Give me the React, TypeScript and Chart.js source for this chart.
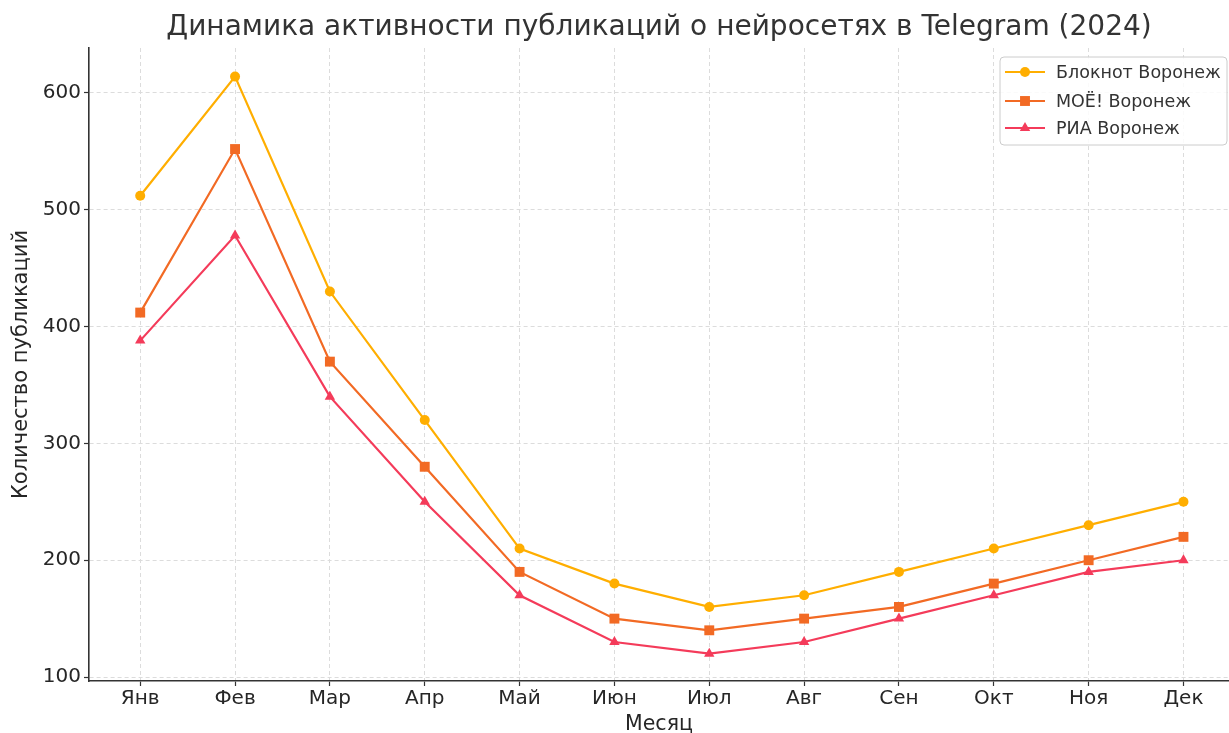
import React, { useEffect, useRef } from "react";
import { Chart, registerables } from "chart.js";

Chart.register(...registerables);

const months = ["Янв", "Фев", "Мар", "Апр", "Май", "Июн", "Июл", "Авг", "Сен", "Окт", "Ноя", "Дек"];
const bloknot = [512, 614, 430, 320, 210, 180, 160, 170, 190, 210, 230, 250];
const moe = [412, 552, 370, 280, 190, 150, 140, 150, 160, 180, 200, 220];
const ria = [388, 478, 340, 250, 170, 130, 120, 130, 150, 170, 190, 200];
const yTicks = [100, 200, 300, 400, 500, 600];
const seriesNames = ["Блокнот Воронеж", "МОЁ! Воронеж", "РИА Воронеж"];
const seriesColors = ["#FFAE00", "#F26A24", "#F43B5A"];
const seriesStyles = ["circle", "rect", "triangle"];
const seriesRadius = [5, 7, 6];
const titleText = "Динамика активности публикаций о нейросетях в Telegram (2024)";
const xTitle = "Месяц";
const yTitle = "Количество публикаций";

const FONT = "'DejaVu Sans', sans-serif";

function drawMarker(ctx: CanvasRenderingContext2D, style: string, r: number, x: number, y: number) {
  ctx.beginPath();
  if (style === "circle") {
    ctx.arc(x, y, r, 0, Math.PI * 2);
  } else if (style === "rect") {
    const s = Math.SQRT1_2 * r;
    ctx.rect(x - s, y - s, 2 * s, 2 * s);
  } else {
    const w = (r * Math.sqrt(3)) / 2;
    ctx.moveTo(x, y - r);
    ctx.lineTo(x + w, y + r / 2);
    ctx.lineTo(x - w, y + r / 2);
    ctx.closePath();
  }
  ctx.fill();
}

const textPlugin = {
  id: "textPlugin",
  afterDraw(chart: any) {
    const ctx = chart.ctx;
    const area = chart.chartArea;
    ctx.save();
    ctx.fillStyle = "#333";
    ctx.textAlign = "center";
    ctx.textBaseline = "middle";
    ctx.font = `28px ${FONT}`;
    ctx.fillText(titleText, (area.left + area.right) / 2, 28);
    ctx.fillStyle = "#262626";
    ctx.font = `20.5px ${FONT}`;
    ctx.fillText(xTitle, (area.left + area.right) / 2, 725);
    ctx.translate(22, (area.top + area.bottom) / 2);
    ctx.rotate(-Math.PI / 2);
    ctx.font = `21px ${FONT}`;
    ctx.fillText(yTitle, 0, 0);
    ctx.restore();

    // legend
    ctx.save();
    const bx = 1000, by = 57, bw = 227, bh = 88, r = 4;
    ctx.beginPath();
    ctx.moveTo(bx + r, by);
    ctx.lineTo(bx + bw - r, by);
    ctx.quadraticCurveTo(bx + bw, by, bx + bw, by + r);
    ctx.lineTo(bx + bw, by + bh - r);
    ctx.quadraticCurveTo(bx + bw, by + bh, bx + bw - r, by + bh);
    ctx.lineTo(bx + r, by + bh);
    ctx.quadraticCurveTo(bx, by + bh, bx, by + bh - r);
    ctx.lineTo(bx, by + r);
    ctx.quadraticCurveTo(bx, by, bx + r, by);
    ctx.closePath();
    ctx.fillStyle = "rgba(255,255,255,0.85)";
    ctx.fill();
    ctx.strokeStyle = "#cccccc";
    ctx.lineWidth = 1;
    ctx.stroke();
    const rowsY = [72, 101, 128];
    for (let i = 0; i < seriesNames.length; i++) {
      const y = rowsY[i];
      ctx.strokeStyle = seriesColors[i];
      ctx.lineWidth = 2.2;
      ctx.beginPath();
      ctx.moveTo(1005, y);
      ctx.lineTo(1045, y);
      ctx.stroke();
      ctx.fillStyle = seriesColors[i];
      drawMarker(ctx, seriesStyles[i], seriesRadius[i], 1025, y);
      ctx.fillStyle = "#333";
      ctx.font = `17.5px ${FONT}`;
      ctx.textAlign = "left";
      ctx.textBaseline = "middle";
      ctx.fillText(seriesNames[i], 1056, y + 1);
    }
    ctx.restore();
  },
};

export default function App() {
  const ref = useRef<HTMLCanvasElement>(null);
  useEffect(() => {
    document.body.style.margin = "0";
    const ds = [bloknot, moe, ria].map((arr, i) => ({
      label: seriesNames[i],
      data: arr.map((v, j) => ({ x: j, y: v })),
      borderColor: seriesColors[i],
      backgroundColor: seriesColors[i],
      borderWidth: 2.2,
      pointStyle: seriesStyles[i] as any,
      pointRadius: seriesRadius[i],
      pointBorderWidth: 0,
      pointBackgroundColor: seriesColors[i],
      tension: 0,
      clip: 10,
      order: 2 - i,
    }));
    const chart = new Chart(ref.current!, {
      type: "line",
      data: { datasets: ds },
      plugins: [textPlugin],
      options: {
        responsive: false,
        animation: false,
        layout: { autoPadding: false, padding: { top: 48, left: 0, right: 0, bottom: 0 } } as any,
        plugins: {
          legend: { display: false },
          title: { display: false },
          tooltip: { enabled: false },
        },
        scales: {
          x: {
            type: "linear",
            min: -0.54,
            max: 11.48,
            afterFit(scale: any) {
              scale.height = 52;
              scale.paddingLeft = 0;
              scale.paddingRight = 0;
            },
            afterBuildTicks(scale: any) { scale.ticks = months.map((_, i) => ({ value: i })); },
            ticks: {
              autoSkip: false,
              maxRotation: 0,
              padding: 1,
              color: "#262626",
              font: { family: FONT, size: 20 },
              callback: (v: any) => months[Math.round(Number(v))] ?? "",
            },
            grid: {
              color: "#dcdcdc",
              lineWidth: 1,
              tickColor: "#333",
              tickLength: 5,
              tickBorderDash: [],
              tickWidth: 1.2,
            } as any,
            border: { display: true, color: "#333", width: 1.6, dash: [4, 3] } as any,
          },
          y: {
            type: "linear",
            min: 96.6,
            max: 638.5,
            afterFit(scale: any) {
              scale.width = 89;
              scale.paddingTop = 0;
              scale.paddingBottom = 0;
            },
            afterBuildTicks(scale: any) { scale.ticks = yTicks.map((v) => ({ value: v })); },
            ticks: {
              padding: 3,
              color: "#262626",
              font: { family: FONT, size: 20 },
            },
            grid: {
              color: "#dcdcdc",
              lineWidth: 1,
              tickColor: "#333",
              tickLength: 5,
              tickBorderDash: [],
              tickWidth: 1.2,
            } as any,
            border: { display: true, color: "#333", width: 1.6, dash: [4, 3] } as any,
          },
        },
      },
    });
    return () => chart.destroy();
  }, []);
  return (
    <div style={{ width: 1229, height: 733 }}>
      <canvas ref={ref} width={1229} height={733} style={{ display: "block" }} />
    </div>
  );
}
